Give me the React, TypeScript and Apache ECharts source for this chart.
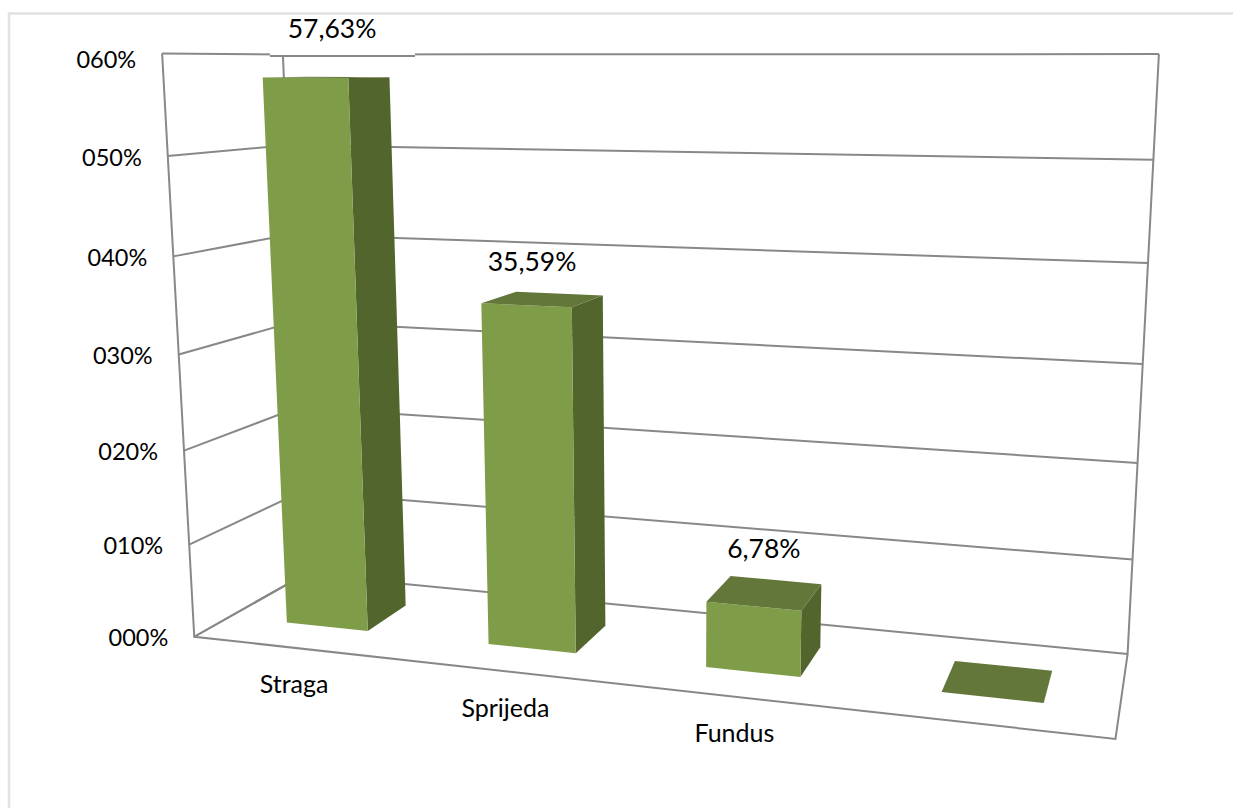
import React, { useEffect, useRef } from "react";
import * as echarts from "echarts";

const categories = ["Straga", "Sprijeda", "Fundus", ""];
const values = [57.63, 35.59, 6.78, 0];
const valueLabels = ["57,63%", "35,59%", "6,78%", ""];
const tickValues = [0, 10, 20, 30, 40, 50, 60];
const tickLabels = ["000%", "010%", "020%", "030%", "040%", "050%", "060%"];

const W = 1233, H = 808;
const FONT = "Lato, Carlito, 'Noto Sans', sans-serif";
const LINE = "#888888";
const GRID = { left: 100, top: 100, width: 1000, height: 600 };
const DEPTH_FRONT = 0.3, DEPTH_BACK = 0.69, BAR_SHARE = 0.41;
const VALUE_LABEL_SHIFT = [[5, -49], [-11, -38], [-1, -45], [0, 0]];

// Perspective camera fitted to the frame of the 3-D box: [u, w, v, screenX, screenY]
const anchors = [
  [0, 0, 0, 193, 637], [1, 0, 0, 1116, 738], [0, 1, 0, 306, 574], [1, 1, 0, 1127, 655],
  [0, 0, 1, 163, 54], [0, 1, 1, 282, 54], [1, 1, 1, 1159, 54],
];
function solveCamera(): number[] {
  const A: number[][] = [], b: number[] = [];
  for (const [u, w, v, x, y] of anchors) {
    A.push([u, w, v, 1, 0, 0, 0, 0, -x * u, -x * w, -x * v]); b.push(x);
    A.push([0, 0, 0, 0, u, w, v, 1, -y * u, -y * w, -y * v]); b.push(y);
  }
  const n = 11;
  const M = Array.from({ length: n }, (_, i) => {
    const row = Array.from({ length: n }, (_, j) => A.reduce((s, r) => s + r[i] * r[j], 0));
    row.push(A.reduce((s, r, k) => s + r[i] * b[k], 0));
    return row;
  });
  for (let c = 0; c < n; c++) {
    let p = c;
    for (let r = c + 1; r < n; r++) if (Math.abs(M[r][c]) > Math.abs(M[p][c])) p = r;
    [M[c], M[p]] = [M[p], M[c]];
    for (let r = 0; r < n; r++) {
      if (r === c) continue;
      const f = M[r][c] / M[c][c];
      for (let k = c; k <= n; k++) M[r][k] -= f * M[c][k];
    }
  }
  return M.map((r, i) => r[n] / r[i]);
}
const P = solveCamera();
function project(u: number, w: number, v: number): number[] {
  const d = P[8] * u + P[9] * w + P[10] * v + 1;
  return [(P[0] * u + P[1] * w + P[2] * v + P[3]) / d, (P[4] * u + P[5] * w + P[6] * v + P[7]) / d];
}
const toU = (px: number) => (px - GRID.left) / GRID.width;
const toV = (py: number) => (GRID.top + GRID.height - py) / GRID.height;

function App() {
  const ref = useRef<HTMLDivElement>(null);
  useEffect(() => {
    document.body.style.margin = "0";
    const chart = echarts.init(ref.current!, undefined, { renderer: "svg" });
    const lineStyle = { stroke: LINE, lineWidth: 2, fill: "none" };
    chart.setOption({
      animation: false,
      backgroundColor: "#ffffff",
      tooltip: { show: false },
      grid: GRID,
      xAxis: { type: "category", data: categories, show: false },
      yAxis: { type: "value", min: 0, max: 60, interval: 10, show: false },
      graphic: {
        elements: [
          { type: "polyline", z: 0, shape: { points: [[9, H], [9, 13.5], [W, 13.5]] }, style: { stroke: "#e2e2e2", lineWidth: 2.5, fill: "none" }, silent: true },
          { type: "rect", z: 100, shape: { x: 270, y: 44, width: 145, height: 11.5 }, style: { fill: "#ffffff" }, silent: true },
          { type: "line", z: 100, shape: { x1: 270, y1: 56, x2: 415, y2: 56 }, style: { stroke: LINE, lineWidth: 2 }, silent: true },
        ],
      },
      series: [
        {
          type: "custom",
          name: "frame",
          clip: false,
          silent: true,
          z: 1,
          data: [[0, 0]],
          renderItem: () => ({
            type: "group",
            children: [
              [[0, 0, 1], [0, 0, 0], [1, 0, 0], [1, 1, 0], [1, 1, 1]],
              [[0, 0, 0], [0, 1, 0], [0, 1, 1]],
            ].map((pts) => ({
              type: "polyline",
              shape: { points: pts.map(([u, w, v]) => project(u, w, v)) },
              style: lineStyle,
            })),
          }),
        },
        {
          type: "custom",
          name: "gridlines",
          clip: false,
          silent: true,
          z: 2,
          data: tickValues.map((t) => [0, t]),
          renderItem: (params: any, api: any) => {
            const v = toV(api.coord([0, api.value(1)])[1]);
            const left = project(0, 0, v);
            const isTop = params.dataIndex === tickValues.length - 1;
            return {
              type: "group",
              children: [
                { type: "polyline", shape: { points: [left, project(0, 1, v), project(1, 1, v)] }, style: lineStyle },
                {
                  type: "text",
                  style: {
                    text: tickLabels[params.dataIndex], x: left[0] - 26, y: left[1] + (isTop ? 6 : 0.5),
                    align: "right", verticalAlign: "middle", fontFamily: FONT, fontSize: 23.5, fill: "#000000",
                  },
                },
              ],
            };
          },
        },
        {
          type: "custom",
          name: "bars",
          clip: false,
          silent: true,
          z: 3,
          data: values.map((val, i) => [i, val]),
          renderItem: (params: any, api: any) => {
            const i = params.dataIndex;
            const pt = api.coord([i, api.value(1)]);
            const band = api.size([1, 0])[0] / GRID.width;
            const uc = toU(pt[0]);
            const v = toV(pt[1]);
            const u0 = uc - (band * BAR_SHARE) / 2, u1 = uc + (band * BAR_SHARE) / 2;
            const d0 = DEPTH_FRONT, d1 = DEPTH_BACK;
            const front = [project(u0, d0, 0), project(u1, d0, 0), project(u1, d0, v), project(u0, d0, v)];
            const side = [project(u1, d0, 0), project(u1, d1, 0), project(u1, d1, v), project(u1, d0, v)];
            const top = [project(u0, d0, v), project(u1, d0, v), project(u1, d1, v), project(u0, d1, v)];
            const cat = project(uc, 0, 0);
            const tc = project(uc, (d0 + d1) / 2, v);
            const children: any[] = [
              { type: "polygon", shape: { points: side }, style: { fill: "#52652d" } },
              { type: "polygon", shape: { points: front }, style: { fill: "#7f9c48" } },
              { type: "polygon", shape: { points: top }, style: { fill: "#64773a" } },
            ];
            if (categories[i]) {
              children.push({
                type: "text",
                style: { text: categories[i], x: cat[0], y: cat[1] + 35.5, align: "center", verticalAlign: "middle", fontFamily: FONT, fontSize: 25, fill: "#000000" },
              });
            }
            if (valueLabels[i]) {
              children.push({
                type: "text",
                style: { text: valueLabels[i], x: tc[0] + VALUE_LABEL_SHIFT[i][0], y: tc[1] + VALUE_LABEL_SHIFT[i][1], align: "center", verticalAlign: "middle", fontFamily: FONT, fontSize: 26.5, fill: "#000000" },
              });
            }
            return { type: "group", children };
          },
        },
      ],
    });
    return () => chart.dispose();
  }, []);
  return <div ref={ref} style={{ width: W, height: H }} />;
}

export default App;
